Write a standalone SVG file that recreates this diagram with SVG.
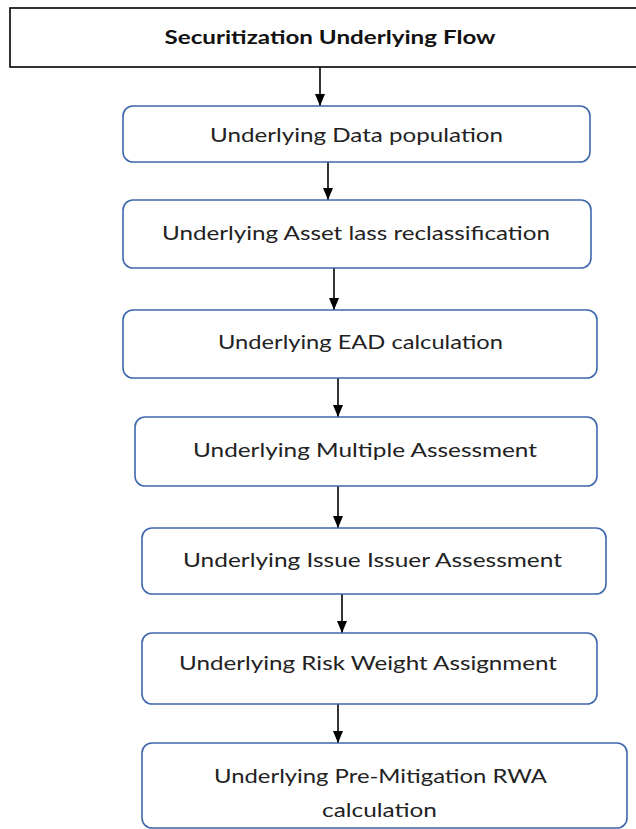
<svg xmlns="http://www.w3.org/2000/svg" width="636" height="829" viewBox="0 0 636 829">
<defs>
<marker id="ah" markerWidth="12" markerHeight="10" refX="12" refY="5" orient="auto" markerUnits="userSpaceOnUse" viewBox="0 0 12 10">
<path d="M0,0 L12,5 L0,10 Z" fill="#000"/>
</marker>
<style>
.node{fill:#fff;stroke:#3f67ac;stroke-width:1.6}
.title{fill:#fff;stroke:#000;stroke-width:1.6}
.lbl{font-family:Lato,"Open Sans","Liberation Sans",sans-serif;font-size:19px;fill:#222;text-anchor:middle}
.tt{font-family:Lato,"Open Sans","Liberation Sans",sans-serif;font-size:19px;font-weight:bold;fill:#111;text-anchor:middle}
.conn{stroke:#000;stroke-width:1.6;fill:none}
</style>
</defs>
<rect width="636" height="829" fill="#fff"/>
<g id="connectors">
<line class="conn" x1="320" y1="67" x2="320" y2="106" marker-end="url(#ah)"/>
<line class="conn" x1="328" y1="162" x2="328" y2="200" marker-end="url(#ah)"/>
<line class="conn" x1="334" y1="268" x2="334" y2="310" marker-end="url(#ah)"/>
<line class="conn" x1="338" y1="378" x2="338" y2="417" marker-end="url(#ah)"/>
<line class="conn" x1="338" y1="486" x2="338" y2="528" marker-end="url(#ah)"/>
<line class="conn" x1="342" y1="594" x2="342" y2="633" marker-end="url(#ah)"/>
<line class="conn" x1="338" y1="704" x2="338" y2="743" marker-end="url(#ah)"/>
</g>
<g id="title">
<rect class="title" x="10" y="8" width="640" height="59"/>
<text class="tt" x="330" y="44" textLength="331" lengthAdjust="spacingAndGlyphs">Securitization Underlying Flow</text>
</g>
<g id="n1">
<rect class="node" x="123" y="106" width="467" height="56" rx="10"/>
<text class="lbl" x="356.5" y="142" textLength="293" lengthAdjust="spacingAndGlyphs">Underlying Data population</text>
</g>
<g id="n2">
<rect class="node" x="123" y="200" width="468" height="68" rx="10"/>
<text class="lbl" x="356" y="240" textLength="388" lengthAdjust="spacingAndGlyphs">Underlying Asset lass reclassification</text>
</g>
<g id="n3">
<rect class="node" x="123" y="310" width="474" height="68" rx="10"/>
<text class="lbl" x="360.5" y="349" textLength="285" lengthAdjust="spacingAndGlyphs">Underlying EAD calculation</text>
</g>
<g id="n4">
<rect class="node" x="135" y="417" width="462" height="69" rx="10"/>
<text class="lbl" x="365" y="457" textLength="344" lengthAdjust="spacingAndGlyphs">Underlying Multiple Assessment</text>
</g>
<g id="n5">
<rect class="node" x="142" y="528" width="464" height="66" rx="10"/>
<text class="lbl" x="372.5" y="567" textLength="379" lengthAdjust="spacingAndGlyphs">Underlying Issue Issuer Assessment</text>
</g>
<g id="n6">
<rect class="node" x="142" y="633" width="455" height="71" rx="10"/>
<text class="lbl" x="368" y="670" textLength="378" lengthAdjust="spacingAndGlyphs">Underlying Risk Weight Assignment</text>
</g>
<g id="n7">
<rect class="node" x="142" y="743" width="485" height="85" rx="10"/>
<text class="lbl" x="380.5" y="783" textLength="333" lengthAdjust="spacingAndGlyphs">Underlying Pre-Mitigation RWA</text>
<text class="lbl" x="379.5" y="817" textLength="115" lengthAdjust="spacingAndGlyphs">calculation</text>
</g>
</svg>
